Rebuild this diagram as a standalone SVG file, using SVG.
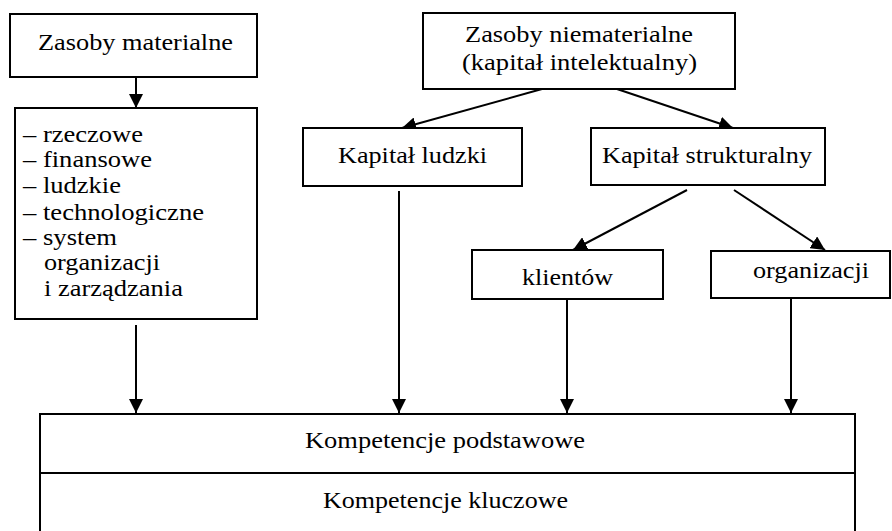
<svg xmlns="http://www.w3.org/2000/svg" width="892" height="531" viewBox="0 0 892 531">
<style>
.box{fill:#fff;stroke:#000;stroke-width:2}
.t{font-size:23px;fill:#000}
.c{stroke:#000;stroke-width:2;fill:none;marker-end:url(#ah)}
</style>
<defs>
<marker id="ah" markerUnits="userSpaceOnUse" markerWidth="14" markerHeight="14" viewBox="0 0 14 14" refX="14" refY="7" orient="auto">
<path d="M0,0 L14,7 L0,14 z" fill="#000"/>
</marker>
</defs>
<rect width="892" height="531" fill="#fff"/>
<g id="connectors">
<line class="c" x1="136" y1="77" x2="136" y2="108"/>
<line class="c" x1="542" y1="89" x2="402" y2="128"/>
<line class="c" x1="617" y1="89" x2="733" y2="128"/>
<line class="c" x1="687" y1="190" x2="573" y2="250"/>
<line class="c" x1="734" y1="190" x2="825" y2="250"/>
<line class="c" x1="136" y1="325" x2="136" y2="413"/>
<line class="c" x1="399" y1="191" x2="399" y2="413"/>
<line class="c" x1="567" y1="299" x2="567" y2="413"/>
<line class="c" x1="791" y1="298" x2="791" y2="413"/>
</g>
<g font-family="Liberation Serif, Times New Roman, serif">
<g id="zasoby-materialne">
<rect class="box" x="10" y="14" width="247" height="63"/>
<text class="t" x="38" y="50" textLength="195" lengthAdjust="spacingAndGlyphs">Zasoby materialne</text>
</g>
<g id="lista">
<rect class="box" x="15" y="108" width="242" height="211"/>
<text class="t" x="23" y="142" textLength="120" lengthAdjust="spacingAndGlyphs">– rzeczowe</text>
<text class="t" x="23" y="167" textLength="129" lengthAdjust="spacingAndGlyphs">– finansowe</text>
<text class="t" x="23" y="193" textLength="98" lengthAdjust="spacingAndGlyphs">– ludzkie</text>
<text class="t" x="23" y="220" textLength="181" lengthAdjust="spacingAndGlyphs">– technologiczne</text>
<text class="t" x="23" y="245" textLength="94" lengthAdjust="spacingAndGlyphs">– system</text>
<text class="t" x="44" y="270" textLength="116" lengthAdjust="spacingAndGlyphs">organizacji</text>
<text class="t" x="44" y="296" textLength="139" lengthAdjust="spacingAndGlyphs">i zarządzania</text>
</g>
<g id="zasoby-niematerialne">
<rect class="box" x="423" y="13" width="312" height="76"/>
<text class="t" x="465" y="42" textLength="228" lengthAdjust="spacingAndGlyphs">Zasoby niematerialne</text>
<text class="t" x="462" y="70" textLength="235" lengthAdjust="spacingAndGlyphs">(kapitał intelektualny)</text>
</g>
<g id="kapital-ludzki">
<rect class="box" x="303" y="128" width="219" height="58"/>
<text class="t" x="338" y="163" textLength="149" lengthAdjust="spacingAndGlyphs">Kapitał ludzki</text>
</g>
<g id="kapital-strukturalny">
<rect class="box" x="591" y="128" width="234" height="57"/>
<text class="t" x="602" y="163" textLength="210" lengthAdjust="spacingAndGlyphs">Kapitał strukturalny</text>
</g>
<g id="klientow">
<rect class="box" x="472" y="250" width="191" height="49"/>
<text class="t" x="522" y="285" textLength="91" lengthAdjust="spacingAndGlyphs">klientów</text>
</g>
<g id="organizacji">
<rect class="box" x="711" y="251" width="179" height="47"/>
<text class="t" x="753" y="278" textLength="116" lengthAdjust="spacingAndGlyphs">organizacji</text>
</g>
<g id="kompetencje">
<rect class="box" x="40" y="414" width="815" height="130"/>
<line x1="40" y1="473" x2="855" y2="473" stroke="#000" stroke-width="2"/>
<text class="t" x="305" y="448" textLength="280" lengthAdjust="spacingAndGlyphs" font-size="22">Kompetencje podstawowe</text>
<text class="t" x="323" y="508" textLength="245" lengthAdjust="spacingAndGlyphs">Kompetencje kluczowe</text>
</g>
</g>
</svg>
